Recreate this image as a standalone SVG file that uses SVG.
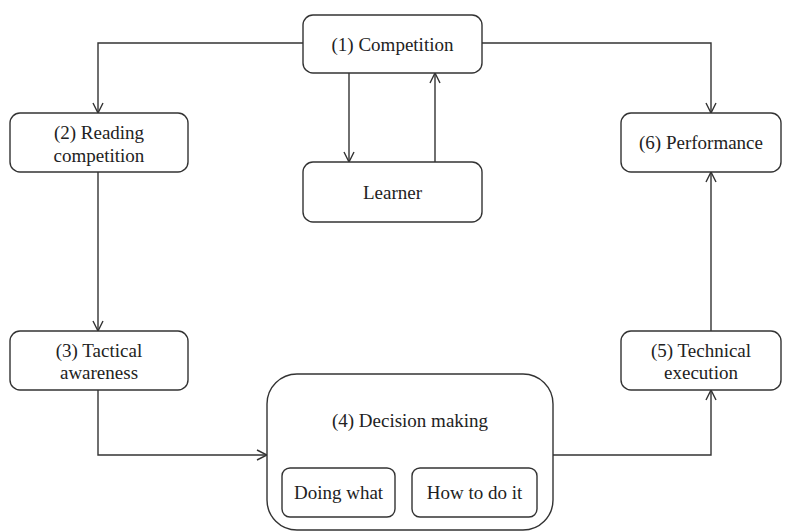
<svg xmlns="http://www.w3.org/2000/svg" width="791" height="531" viewBox="0 0 791 531" font-family="Liberation Serif, Times New Roman, serif">
<style>
.box{fill:#fff;stroke:#333;stroke-width:1.4}
.t{font-size:19px;fill:#222;text-anchor:middle}
.c{fill:none;stroke:#333;stroke-width:1.4}
</style>
<defs>
<marker id="a" viewBox="0 0 12 12" refX="11" refY="6" markerWidth="12" markerHeight="12" markerUnits="userSpaceOnUse" orient="auto">
<path d="M1,1 L11,6 L1,11" fill="none" stroke="#333" stroke-width="1.4"/>
</marker>
</defs>
<rect width="791" height="531" fill="#fff"/>
<g id="connectors">
<path class="c" d="M303,43 H98 V113" marker-end="url(#a)"/>
<path class="c" d="M482,43 H711 V113" marker-end="url(#a)"/>
<path class="c" d="M349,73 V162" marker-end="url(#a)"/>
<path class="c" d="M435,162 V73" marker-end="url(#a)"/>
<path class="c" d="M98,172 V331" marker-end="url(#a)"/>
<path class="c" d="M98,390 V455 H267" marker-end="url(#a)"/>
<path class="c" d="M553,455 H711 V390" marker-end="url(#a)"/>
<path class="c" d="M711,331 V172" marker-end="url(#a)"/>
</g>
<g id="n1"><rect class="box" x="303" y="15" width="179" height="58" rx="10"/><text class="t" x="392.5" y="51">(1) Competition</text></g>
<g id="learner"><rect class="box" x="303" y="162" width="179" height="60" rx="10"/><text class="t" x="392.5" y="199">Learner</text></g>
<g id="n2"><rect class="box" x="10" y="113" width="178" height="59" rx="10"/><text class="t" x="99" y="139">(2) Reading</text><text class="t" x="99" y="162">competition</text></g>
<g id="n3"><rect class="box" x="10" y="331" width="178" height="59" rx="10"/><text class="t" x="99" y="357">(3) Tactical</text><text class="t" x="99" y="379">awareness</text></g>
<g id="n4"><rect class="box" x="267" y="374" width="286" height="156" rx="30"/><text class="t" x="410" y="427">(4) Decision making</text>
<rect class="box" x="282" y="468" width="113" height="49" rx="8"/><text class="t" x="338.5" y="499">Doing what</text>
<rect class="box" x="412" y="468" width="125" height="49" rx="8"/><text class="t" x="474.5" y="499">How to do it</text></g>
<g id="n5"><rect class="box" x="621" y="331" width="160" height="59" rx="10"/><text class="t" x="701" y="357">(5) Technical</text><text class="t" x="701" y="379">execution</text></g>
<g id="n6"><rect class="box" x="621" y="113" width="160" height="59" rx="10"/><text class="t" x="701" y="149">(6) Performance</text></g>
</svg>
